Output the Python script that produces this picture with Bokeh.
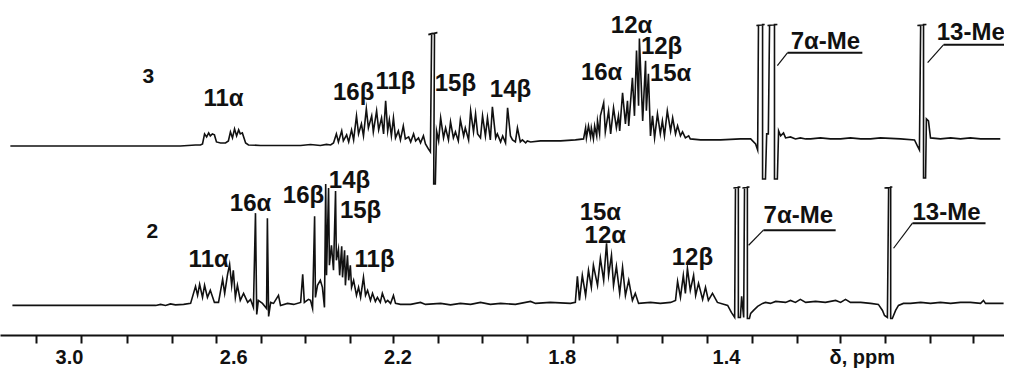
from bokeh.plotting import figure
from bokeh.models import Range1d, FixedTicker
from bokeh.core.properties import value
from bokeh.embed import file_html
from bokeh.resources import INLINE

# ---------------- data (ppm, intensity above baseline) ----------------
spectrum_3 = [
    (3.144, 0), (2.730, 0), (2.693, 1), (2.681, 1), (2.676, 2), (2.671, 12), (2.666, 9), (2.661, 13),
    (2.657, 10), (2.652, 12), (2.647, 11), (2.642, 4), (2.632, 3), (2.620, 3), (2.613, 5), (2.608, 14),
    (2.603, 8), (2.598, 17), (2.593, 10), (2.588, 16), (2.584, 12), (2.579, 13), (2.571, 3), (2.564, 1),
    (2.535, 0.5), (2.437, 0.5), (2.413, 1.5), (2.389, 0.5), (2.374, 1.5),
    (2.364, 1), (2.357, 3), (2.350, 12), (2.345, 4), (2.337, 15), (2.333, 5), (2.325, 11), (2.320, 4),
    (2.313, 16), (2.308, 6), (2.301, 30), (2.296, 12), (2.289, 22), (2.284, 10), (2.277, 37), (2.272, 18),
    (2.264, 30), (2.260, 14), (2.252, 35), (2.247, 16), (2.240, 28), (2.235, 12), (2.230, 45), (2.225, 15),
    (2.221, 26), (2.216, 10), (2.211, 28), (2.206, 8), (2.199, 15), (2.194, 6), (2.187, 20), (2.182, 7),
    (2.174, 9), (2.169, 4), (2.162, 12), (2.157, 5), (2.150, 8), (2.145, 3), (2.138, 10), (2.133, 2),
    (2.126, -3), (2.121, -6),
    (2.118, 112), (2.126, 111), (2.104, 113), (2.111, 112), (2.113, -38), (2.109, -38), (2.106, 15),
    (2.101, 5), (2.096, 28), (2.089, 8), (2.084, 18), (2.077, 6), (2.072, 24), (2.065, 8), (2.060, 14),
    (2.053, 5), (2.048, 26), (2.040, 10), (2.036, 18), (2.028, 6), (2.023, 35), (2.016, 14), (2.011, 32),
    (2.006, 12), (1.999, 8), (1.994, 30), (1.987, 10), (1.982, 28), (1.975, 6), (1.970, 39), (1.962, 8),
    (1.958, 12), (1.950, 4), (1.945, 10), (1.938, 3), (1.933, 38), (1.926, 10), (1.921, 6), (1.914, 4),
    (1.909, 18), (1.902, 4), (1.897, 6), (1.889, 3), (1.885, 5), (1.877, 4), (1.853, 5), (1.804, 5),
    (1.768, 6), (1.748, 7),
    (1.743, 18), (1.741, 8), (1.736, 20), (1.731, 9), (1.729, 18), (1.724, 7), (1.721, 20), (1.716, 10),
    (1.714, 25), (1.709, 12), (1.707, 30), (1.699, 43), (1.695, 14), (1.687, 35), (1.682, 12), (1.675, 38),
    (1.668, 18), (1.663, 30), (1.660, 15), (1.653, 53), (1.646, 22), (1.641, 45), (1.638, 20), (1.629, 68),
    (1.624, 30), (1.619, 95), (1.614, 40), (1.612, 107), (1.604, 25), (1.597, 85), (1.595, 35), (1.590, 72),
    (1.585, 10), (1.580, 30), (1.575, 8), (1.568, 32), (1.561, 12), (1.556, 25), (1.551, 10), (1.544, 35),
    (1.536, 15), (1.531, 28), (1.524, 12), (1.519, 20), (1.512, 10), (1.507, 14), (1.500, 8), (1.492, 10),
    (1.488, 7), (1.463, 6), (1.414, 6), (1.366, 7), (1.341, 7),
    (1.329, 2), (1.324, -4), (1.322, 120), (1.327, 120), (1.307, 121), (1.312, 121), (1.312, -33),
    (1.305, -33), (1.302, 12), (1.298, 12), (1.295, 120), (1.300, 120), (1.276, 121), (1.283, 121),
    (1.283, -33), (1.276, -33), (1.273, 15), (1.268, 10), (1.261, 13), (1.256, 8), (1.244, 9), (1.232, 7),
    (1.220, 8), (1.207, 7), (1.195, 7), (1.171, 8), (1.147, 7), (1.122, 7), (1.098, 8), (1.073, 7),
    (1.049, 7), (1.025, 8), (0.976, 7), (0.942, 6),
    (0.935, 0), (0.930, -4), (0.927, 120), (0.935, 120), (0.913, 121), (0.920, 121), (0.920, -32),
    (0.915, -32), (0.913, 27), (0.908, 25), (0.903, 8), (0.879, 7), (0.854, 8), (0.830, 7), (0.806, 8),
    (0.781, 7), (0.757, 7), (0.733, 7),
]

spectrum_2 = [
    (3.139, 0), (2.790, 0), (2.778, 1), (2.766, 0), (2.754, 1.5), (2.742, 0.5), (2.722, 1), (2.705, 2),
    (2.693, 19), (2.688, 10), (2.683, 21), (2.676, 8), (2.671, 20), (2.664, 8), (2.657, 15), (2.647, 3),
    (2.637, 3), (2.627, 26), (2.622, 12), (2.615, 31), (2.610, 41), (2.605, 20), (2.601, 35), (2.596, 8),
    (2.591, 20), (2.584, 5), (2.576, 12), (2.566, 3), (2.559, 6), (2.552, -2), (2.547, 92), (2.544, -9),
    (2.540, 5), (2.530, 2), (2.520, -3), (2.518, 87), (2.515, -11), (2.510, 3), (2.503, 2), (2.491, 10),
    (2.486, 0), (2.469, 2), (2.454, 1), (2.437, 3), (2.432, 31), (2.428, 3), (2.418, 6), (2.413, 5),
    (2.408, -3), (2.403, 89), (2.401, 8), (2.396, 20), (2.389, 25), (2.384, 18), (2.379, -2), (2.376, 121),
    (2.374, 30), (2.369, 117), (2.367, 40), (2.362, 60), (2.357, 35), (2.352, 114), (2.350, 45), (2.345, 56),
    (2.342, 30), (2.337, 59), (2.335, 28), (2.330, 55), (2.328, 20), (2.323, 50), (2.320, 25), (2.316, 40),
    (2.313, 18), (2.308, 25), (2.301, 10), (2.296, 18), (2.291, 8), (2.284, 28), (2.279, 10), (2.274, 15),
    (2.267, 5), (2.262, 12), (2.255, 4), (2.250, 8), (2.243, 3), (2.238, 12), (2.230, 3), (2.225, 5),
    (2.218, 2), (2.211, 10), (2.206, 2), (2.194, 1), (2.169, 1), (2.145, 3), (2.133, 1), (2.096, 2),
    (2.072, 0.5), (2.048, 2), (2.023, 1), (1.999, 3), (1.975, 1), (1.950, 2), (1.914, 1), (1.877, 4),
    (1.865, 2), (1.829, 3), (1.780, 2), (1.768, 3),
    (1.763, 29), (1.758, 5), (1.751, 30), (1.743, 10), (1.736, 35), (1.729, 18), (1.724, 40), (1.714, 20),
    (1.707, 47), (1.699, 25), (1.692, 62), (1.687, 30), (1.680, 50), (1.675, 20), (1.668, 39), (1.660, 12),
    (1.653, 38), (1.646, 10), (1.638, 25), (1.629, 5), (1.622, 12), (1.614, 2), (1.585, 3), (1.561, 2),
    (1.536, 3), (1.524, 5), (1.519, 24), (1.512, 8), (1.505, 30), (1.500, 12), (1.495, 37), (1.488, 15),
    (1.480, 30), (1.475, 10), (1.468, 22), (1.458, 6), (1.451, 18), (1.444, 5), (1.434, 12), (1.422, 3),
    (1.397, 0), (1.388, -7), (1.380, -12),
    (1.378, 117), (1.383, 117), (1.366, 118), (1.371, 118), (1.371, -12), (1.366, -12), (1.363, 9),
    (1.358, -12), (1.356, 117), (1.361, 117), (1.344, 118), (1.349, 118), (1.349, -13), (1.344, -13),
    (1.341, -8), (1.334, -5), (1.324, -1), (1.312, 2), (1.305, 3), (1.293, 2), (1.280, 4), (1.256, 3),
    (1.244, 5), (1.232, 3), (1.220, 6), (1.207, 3), (1.183, 4), (1.159, 3), (1.134, 5), (1.122, 3),
    (1.110, 6), (1.098, 3), (1.073, 3), (1.049, 2), (1.030, 1), (1.020, -5), (1.015, -10), (1.008, -12),
    (1.005, 117), (1.015, 117), (0.996, 118), (1.000, 118), (1.000, -13), (0.996, -13), (0.988, -5),
    (0.981, 0), (0.969, 2), (0.952, 2), (0.927, 3), (0.903, 2), (0.879, 3), (0.854, 2), (0.830, 3),
    (0.806, 3), (0.781, 2), (0.774, 5), (0.769, 2), (0.733, 2), (0.725, 2),
]

tick_values = [3.0, 2.6, 2.2, 1.8, 1.4]
tick_labels = ["3.0", "2.6", "2.2", "1.8", "1.4"]
unit_label = "δ, ppm"

# peak assignments (text, ppm, height in plot units)
labels_3 = [("11α", 2.625, 251), ("16β", 2.308, 257), ("11β", 2.206, 268), ("15β", 2.060, 266),
            ("14β", 1.926, 260), ("16α", 1.704, 277), ("12α", 1.631, 324), ("12β", 1.558, 303),
            ("15α", 1.536, 276), ("7α-Me", 1.159, 308), ("13-Me", 0.805, 317)]
labels_2 = [("11α", 2.661, 91), ("16α", 2.559, 147), ("16β", 2.430, 155), ("14β", 2.318, 170),
            ("15β", 2.291, 140), ("11β", 2.257, 91), ("15α", 1.707, 138), ("12α", 1.695, 115),
            ("12β", 1.483, 93), ("7α-Me", 1.225, 135), ("13-Me", 0.864, 138)]
compound_names = [("3", 2.808, 273), ("2", 2.798, 118)]

# ---------------- layout ----------------
BASE_3 = 203
BASE_2 = 44
FONT = value("Liberation Sans")
INK = "#111111"

p = figure(width=1004, height=370, x_range=Range1d(3.168, 0.7228), y_range=Range1d(14, 348),
           output_backend="svg", toolbar_location=None, y_axis_location=None,
           min_border_left=0, min_border_right=0, min_border_top=0, min_border_bottom=34)
p.outline_line_color = None
p.grid.visible = False
p.background_fill_color = "white"

for spec, base in ((spectrum_3, BASE_3), (spectrum_2, BASE_2)):
    xs = [a for a, b in spec]
    ys = [b + base for a, b in spec]
    p.line(xs, ys, line_color=INK, line_width=1.6, line_join="miter")

# underlines and leader lines for methyl labels
p.segment(x0=[1.251, 0.871, 1.310, 0.947], y0=[296, 304, 119, 126],
          x1=[1.069, 0.70, 1.134, 0.769], y1=[296, 304, 119, 126], line_color=INK, line_width=2)
p.segment(x0=[1.251, 0.871, 1.310, 0.947], y0=[296, 304, 119, 126],
          x1=[1.276, 0.910, 1.346, 0.993], y1=[283, 286, 104, 101], line_color=INK, line_width=1.2)

lab = labels_3 + labels_2
p.text(x=[l[1] for l in lab], y=[l[2] for l in lab], text=[l[0] for l in lab],
       text_font=FONT, text_font_style="bold", text_font_size="24px", text_color=INK,
       text_align="center", text_baseline="middle")
p.text(x=[l[1] for l in compound_names], y=[l[2] for l in compound_names],
       text=[l[0] for l in compound_names], text_font=FONT, text_font_style="bold",
       text_font_size="21px", text_color=INK, text_align="center", text_baseline="middle")

# x axis: labels at chemical-shift values, tick marks at the drawn scale marks
unit_pos = 1.069
minor_marks = [3.080, 2.971, 2.859, 2.749, 2.642, 2.532, 2.425, 2.316, 2.211, 2.101, 1.994, 1.884,
               1.772, 1.665, 1.556, 1.446, 1.337, 1.227, 1.122, 1.013, 0.903, 0.798]
ax = p.xaxis[0]
ax.ticker = FixedTicker(ticks=tick_values + [unit_pos], minor_ticks=minor_marks)
overrides = {v: t for v, t in zip(tick_values, tick_labels)}
overrides[unit_pos] = unit_label
ax.major_label_overrides = overrides
ax.axis_line_color = INK
ax.axis_line_width = 2
ax.major_tick_line_color = None
ax.major_tick_out = 0
ax.major_tick_in = 0
ax.minor_tick_line_color = INK
ax.minor_tick_line_width = 2
ax.minor_tick_out = 8
ax.minor_tick_in = 0
ax.major_label_standoff = 2
ax.major_label_text_font = "Liberation Sans"
ax.major_label_text_font_style = "bold"
ax.major_label_text_font_size = "20px"
ax.major_label_text_color = INK

open("out.html", "w").write(file_html(p, INLINE))
